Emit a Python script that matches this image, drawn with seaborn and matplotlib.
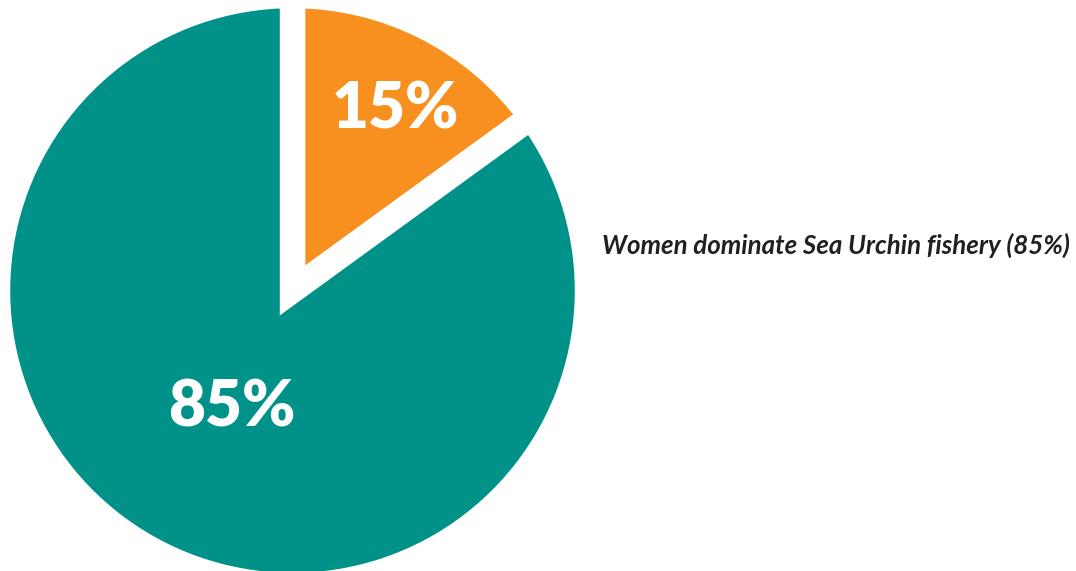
import matplotlib
matplotlib.use("Agg")
import matplotlib.pyplot as plt
import seaborn as sns

# Share of the sea urchin fishery by gender
groups = ["Men", "Women"]
shares = [15, 85]
colors = ["#F7901E", "#009288"]
note = "Women dominate Sea Urchin fishery (85%)"

sns.set_theme(style="white")
plt.rcParams["font.family"] = ["Lato", "DejaVu Sans"]

W, H = 1076, 571
fig = plt.figure(figsize=(W / 100, H / 100), dpi=100)
ax = fig.add_axes([0, 0, 1, 1])

cx, cy = 292.5, 280.5
ax.pie(
    shares,
    colors=colors,
    startangle=90,
    counterclock=False,
    center=(cx, cy),
    radius=295,
    frame=True,
    wedgeprops=dict(edgecolor="white", linewidth=18.3),
)
ax.set_xlim(0, W)
ax.set_ylim(0, H)
ax.set_aspect("equal")
ax.set_axis_off()

# Percentage labels inside each wedge
label_pos = [(396, 461), (232, 163)]
for v, (x, y) in zip(shares, label_pos):
    ax.text(x, y, f"{v}%", color="white", fontsize=46, fontweight="heavy",
            ha="center", va="center")

ax.text(602, 326, note, fontsize=18.6, fontweight="bold", fontstyle="italic",
        color="#231F20", ha="left", va="center")

fig.savefig("out.png", dpi=100)
